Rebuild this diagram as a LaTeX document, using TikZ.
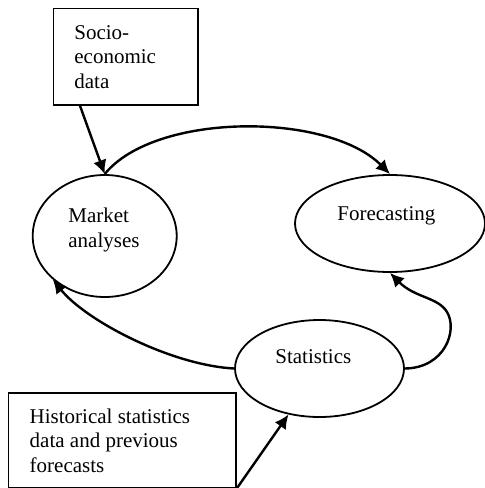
\documentclass[tikz,border=0pt]{standalone}
\usepackage{fontspec}
\setmainfont{Liberation Serif}
\usetikzlibrary{shapes.geometric,arrows.meta}
\begin{document}
\begin{tikzpicture}[x=0.5pt,y=-0.5pt,
  every node/.style={font=\fontsize{10.5}{12.25}\selectfont},
  databox/.style={draw,line width=0.8pt,rectangle,inner sep=0pt},
  topic/.style={draw,line width=0.9pt,ellipse,inner sep=0pt},
  lbl/.style={inner sep=0pt,align=left,anchor=base west},
  flow/.style={line width=1.2pt,-{Latex[length=7pt,width=6.8pt]}}]
\useasboundingbox (0,0) rectangle (485,488);
% boxes
\node[databox,minimum width=72.3pt,minimum height=48.3pt] (socio) at (125.8,56.7) {};
\node[databox,minimum width=113.8pt,minimum height=47.4pt] (hist) at (122.2,440.2) {};
% ellipses
\node[topic,minimum width=72pt,minimum height=61pt] (mkt) at (104.7,236) {};
\node[topic,minimum width=95pt,minimum height=48.5pt] (fc) at (390,223.5) {};
\node[topic,minimum width=84.5pt,minimum height=48.5pt] (stat) at (319.5,368.5) {};
% texts (base anchor = baseline of last line)
\node[lbl] (sociotxt) at (74,88) {Socio-\\economic\\data};
\node[lbl] (histtxt) at (29.3,472) {Historical statistics\\data and previous\\forecasts};
\node[lbl] (mkttxt) at (68,247) {Market\\analyses};
\node[lbl] (fctxt) at (337,220) {Forecasting};
\node[lbl] (stattxt) at (275,363) {Statistics};
% connectors
\draw[flow] (socio.227) -- (mkt.north);
\draw[flow] (mkt.north) .. controls (155,112) and (328,112) .. (fc.north);
\draw[flow] (stat.west) .. controls (170,365) and (85,320) .. (mkt.220);
\coordinate (bend) at (447,312);
\draw[flow] (stat.east) .. controls (445,368) and (458,330) .. (bend)
  .. controls (438,297) and (415,298) .. (fc.south);
\draw[flow] (hist.south east) -- (stat.236);
\end{tikzpicture}
\end{document}
